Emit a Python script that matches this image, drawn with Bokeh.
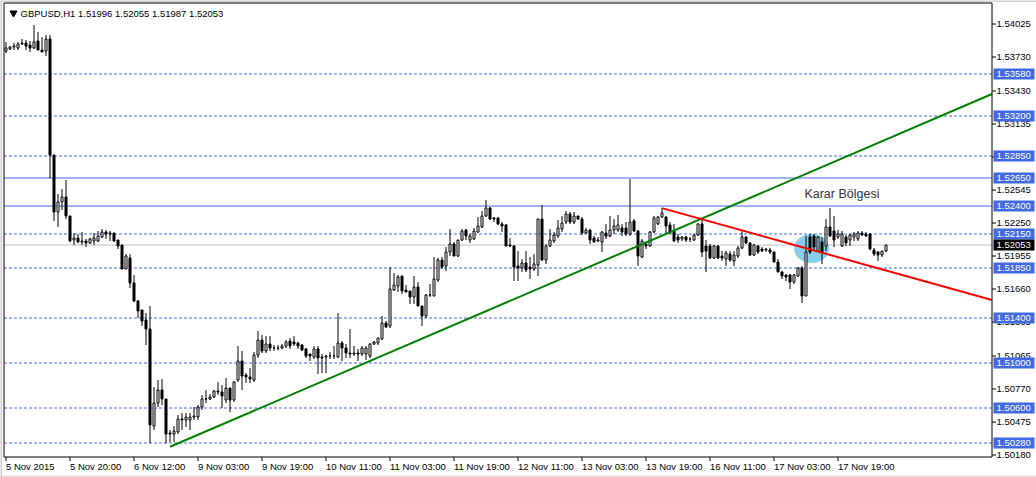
import numpy as np
from bokeh.plotting import figure
from bokeh.models import Range1d, ColumnDataSource
from bokeh.core.properties import value
from bokeh.embed import file_html
from bokeh.resources import INLINE

# ---------------- data (GBPUSD H1) ----------------
opens = [1.53780,1.53801,1.53822,1.53807,1.53852,1.53852,1.53837,1.53813,1.53873,1.53792,
1.53783,1.53891,1.52856,1.52342,1.52437,1.52476,1.52312,1.52097,1.52118,1.52082,
1.52088,1.52067,1.52088,1.52088,1.52127,1.52171,1.52153,1.52156,1.52094,1.52049,
1.51839,1.51938,1.51714,1.51556,1.51469,1.51385,1.51301,1.50434,1.50644,1.50757,
1.50673,1.50375,1.50363,1.50383,1.50494,1.50488,1.50488,1.50518,1.50518,1.50608,
1.50673,1.50673,1.50691,1.50748,1.50742,1.50667,1.50772,1.50667,1.50847,1.51020,
1.50892,1.50877,1.50847,1.51071,1.51200,1.51101,1.51170,1.51131,1.51134,1.51131,
1.51146,1.51194,1.51185,1.51173,1.51155,1.51119,1.51075,1.51054,1.51119,1.51054,
1.51051,1.51057,1.51060,1.51054,1.51179,1.51134,1.51090,1.51081,1.51084,1.51075,
1.51075,1.51060,1.51164,1.51179,1.51209,1.51353,1.51329,1.51652,1.51687,1.51771,
1.51652,1.51643,1.51583,1.51673,1.51508,1.51418,1.51604,1.51598,1.51741,1.51921,
1.51861,1.51987,1.52061,1.51951,1.52097,1.52187,1.52100,1.52106,1.52172,1.52211,
1.52309,1.52381,1.52292,1.52292,1.52241,1.52232,1.52052,1.52046,1.51867,1.51843,
1.51891,1.51852,1.51837,1.51873,1.52280,1.51921,1.52040,1.52091,1.52130,1.52196,
1.52256,1.52330,1.52256,1.52309,1.52286,1.52160,1.52187,1.52112,1.52091,1.52082,
1.52160,1.52136,1.52190,1.52190,1.52202,1.52202,1.52151,1.52262,1.52181,1.51942,
1.52061,1.52040,1.52166,1.52241,1.52300,1.52300,1.52232,1.52181,1.52127,1.52106,
1.52121,1.52103,1.52100,1.52142,1.52241,1.52046,1.52040,1.51933,1.52046,1.51951,
1.51927,1.51972,1.51912,1.51951,1.52022,1.52121,1.52070,1.51963,1.52046,1.52016,
1.52010,1.52010,1.51987,1.51903,1.51813,1.51783,1.51783,1.51723,1.51771,1.51843,
1.51598,1.52121,1.52136,1.52001,1.52076,1.52046,1.52211,1.52181,1.52121,1.52040,
1.52121,1.52100,1.52121,1.52106,1.52160,1.52151,1.52151,1.52010,1.51987,1.51966,
1.51996]
highs = [1.53867,1.53828,1.53852,1.53867,1.53891,1.53882,1.53873,1.54016,1.53956,1.53912,
1.53926,1.53926,1.52856,1.52506,1.52551,1.52629,1.52312,1.52162,1.52147,1.52171,
1.52109,1.52118,1.52162,1.52177,1.52192,1.52186,1.52174,1.52162,1.52100,1.52052,
1.51968,1.51968,1.51780,1.51565,1.51475,1.51445,1.51505,1.50787,1.50847,1.50853,
1.50680,1.50404,1.50434,1.50533,1.50548,1.50554,1.50554,1.50602,1.50623,1.50712,
1.50757,1.50721,1.50757,1.50832,1.50802,1.50862,1.50775,1.50835,1.51146,1.51101,
1.50907,1.50951,1.51092,1.51280,1.51250,1.51235,1.51235,1.51161,1.51155,1.51170,
1.51200,1.51224,1.51239,1.51185,1.51164,1.51134,1.51075,1.51149,1.51149,1.51075,
1.51066,1.51096,1.51149,1.51448,1.51194,1.51164,1.51305,1.51149,1.51119,1.51149,
1.51149,1.51179,1.51194,1.51224,1.51418,1.51374,1.51852,1.51801,1.51783,1.51777,
1.51693,1.51643,1.51771,1.51717,1.51510,1.51613,1.51702,1.51942,1.51933,1.51942,
1.52031,1.52196,1.52076,1.52100,1.52196,1.52196,1.52151,1.52202,1.52300,1.52351,
1.52456,1.52390,1.52300,1.52300,1.52256,1.52241,1.52112,1.52052,1.52001,1.51927,
1.52001,1.51942,1.51972,1.52286,1.52405,1.52061,1.52196,1.52166,1.52271,1.52315,
1.52351,1.52345,1.52345,1.52315,1.52300,1.52202,1.52196,1.52136,1.52121,1.52181,
1.52241,1.52315,1.52286,1.52321,1.52241,1.52256,1.52640,1.52286,1.52187,1.52106,
1.52076,1.52181,1.52315,1.52315,1.52381,1.52315,1.52256,1.52241,1.52151,1.52136,
1.52136,1.52121,1.52151,1.52250,1.52271,1.52100,1.52061,1.52052,1.52052,1.52001,
1.52001,1.52001,1.52001,1.52046,1.52181,1.52136,1.52082,1.52061,1.52052,1.52031,
1.52022,1.52022,1.51990,1.51927,1.51822,1.51792,1.51792,1.51792,1.51852,1.51861,
1.52136,1.52151,1.52151,1.52136,1.52121,1.52286,1.52381,1.52315,1.52190,1.52181,
1.52142,1.52151,1.52166,1.52181,1.52181,1.52166,1.52160,1.52022,1.52001,1.52001,
1.52055]
lows = [1.53762,1.53795,1.53792,1.53795,1.53837,1.53792,1.53777,1.53801,1.53792,1.53777,
1.53741,1.52647,1.52267,1.52216,1.52366,1.52282,1.52079,1.52049,1.52067,1.52055,
1.52034,1.52064,1.52049,1.52079,1.52118,1.52103,1.52088,1.52079,1.52013,1.51833,
1.51833,1.51669,1.51541,1.51400,1.51325,1.51161,1.50285,1.50398,1.50608,1.50623,
1.50285,1.50294,1.50294,1.50368,1.50398,1.50428,1.50398,1.50488,1.50488,1.50578,
1.50637,1.50667,1.50682,1.50712,1.50593,1.50637,1.50563,1.50652,1.50832,1.50757,
1.50817,1.50817,1.50832,1.51041,1.51086,1.51086,1.51101,1.51101,1.51110,1.51122,
1.51131,1.51119,1.51149,1.51119,1.51104,1.51045,1.51015,1.51036,1.50904,1.50910,
1.50910,1.51030,1.51036,1.51045,1.51015,1.51045,1.51045,1.51060,1.51015,1.51060,
1.51024,1.51045,1.51155,1.51155,1.51203,1.51314,1.51314,1.51643,1.51628,1.51613,
1.51628,1.51523,1.51523,1.51508,1.51329,1.51403,1.51583,1.51598,1.51717,1.51837,
1.51822,1.51957,1.51951,1.51942,1.52091,1.52100,1.52070,1.52100,1.52160,1.52202,
1.52300,1.52271,1.52256,1.52226,1.52166,1.52040,1.52031,1.51732,1.51732,1.51807,
1.51813,1.51747,1.51822,1.51777,1.51912,1.51882,1.52031,1.52070,1.52118,1.52166,
1.52241,1.52241,1.52241,1.52271,1.52142,1.52151,1.52061,1.52070,1.52076,1.51987,
1.52106,1.52121,1.52151,1.52166,1.52136,1.52136,1.52136,1.52166,1.51867,1.51933,
1.52016,1.52031,1.52160,1.52226,1.52292,1.52151,1.52151,1.52076,1.52070,1.52091,
1.52082,1.52082,1.52091,1.52136,1.51942,1.51807,1.51927,1.51927,1.51927,1.51912,
1.51867,1.51897,1.51861,1.51933,1.52016,1.52061,1.51957,1.51951,1.51972,1.51987,
1.51987,1.51972,1.51897,1.51807,1.51747,1.51732,1.51658,1.51702,1.51762,1.51538,
1.51592,1.51972,1.52001,1.51987,1.51882,1.52001,1.52121,1.52031,1.52106,1.52031,
1.52040,1.52046,1.52091,1.52091,1.52136,1.52121,1.52010,1.51951,1.51912,1.51942,
1.51987]
closes = [1.53810,1.53822,1.53825,1.53843,1.53843,1.53831,1.53813,1.53861,1.53792,1.53777,
1.53891,1.52856,1.52348,1.52437,1.52476,1.52312,1.52088,1.52118,1.52079,1.52085,
1.52067,1.52109,1.52112,1.52133,1.52171,1.52147,1.52156,1.52088,1.52043,1.51839,
1.51953,1.51714,1.51550,1.51460,1.51370,1.51301,1.50443,1.50644,1.50757,1.50673,
1.50360,1.50360,1.50392,1.50494,1.50485,1.50518,1.50518,1.50527,1.50608,1.50673,
1.50679,1.50697,1.50751,1.50742,1.50703,1.50772,1.50667,1.50832,1.51020,1.50883,
1.50871,1.50853,1.51071,1.51200,1.51101,1.51170,1.51131,1.51134,1.51131,1.51152,
1.51182,1.51149,1.51164,1.51149,1.51113,1.51060,1.51060,1.51119,1.51045,1.51045,
1.51057,1.51060,1.51063,1.51179,1.51134,1.51090,1.51075,1.51084,1.51081,1.51134,
1.51134,1.51164,1.51185,1.51218,1.51353,1.51323,1.51658,1.51693,1.51762,1.51643,
1.51634,1.51583,1.51673,1.51508,1.51418,1.51604,1.51607,1.51747,1.51921,1.51852,
1.51987,1.52061,1.51957,1.52097,1.52181,1.52136,1.52136,1.52181,1.52217,1.52315,
1.52381,1.52286,1.52280,1.52241,1.52220,1.52046,1.52040,1.51852,1.51843,1.51891,
1.51831,1.51837,1.51882,1.52280,1.51921,1.52046,1.52100,1.52142,1.52202,1.52250,
1.52330,1.52256,1.52315,1.52280,1.52160,1.52190,1.52100,1.52082,1.52094,1.52172,
1.52136,1.52190,1.52220,1.52232,1.52166,1.52151,1.52256,1.52181,1.51951,1.52091,
1.52046,1.52166,1.52292,1.52300,1.52339,1.52220,1.52166,1.52091,1.52100,1.52121,
1.52100,1.52106,1.52142,1.52241,1.51987,1.52001,1.51933,1.52046,1.51933,1.51933,
1.51981,1.51921,1.51963,1.52022,1.52121,1.52070,1.51963,1.52052,1.51987,1.52001,
1.52013,1.51987,1.51903,1.51813,1.51771,1.51762,1.51717,1.51783,1.51843,1.51598,
1.51987,1.51987,1.52031,1.52121,1.51987,1.52211,1.52136,1.52100,1.52151,1.52151,
1.52070,1.52142,1.52151,1.52160,1.52142,1.52136,1.52016,1.51972,1.51963,1.51996,
1.52053]

time_labels = ["5 Nov 2015", "5 Nov 20:00", "6 Nov 12:00", "9 Nov 03:00", "9 Nov 19:00",
               "10 Nov 11:00", "11 Nov 03:00", "11 Nov 19:00", "12 Nov 11:00", "13 Nov 03:00",
               "13 Nov 19:00", "16 Nov 11:00", "17 Nov 03:00", "17 Nov 19:00"]
bars_per_label = 16
price_ticks = [1.54025, 1.53730, 1.53430, 1.53135, 1.52840, 1.52545, 1.52250, 1.51955,
               1.51660, 1.51365, 1.51065, 1.50770, 1.50475, 1.50180]
dashed_levels = [1.53580, 1.53200, 1.52850, 1.52150, 1.51850, 1.51400, 1.51000, 1.50600, 1.50280]
solid_levels = [1.52650, 1.52400]
bid_price = 1.52053
title_text = "GBPUSD,H1  1.51996 1.52055 1.51987 1.52053"

green_anchor_x = [41, 200]
green_anchor_y = [1.50250, 1.52687]
red_anchor_x = [164, 200]
red_anchor_y = [1.52381, 1.52023]
zone_x, zone_y, zone_w, zone_h = 201.4, 1.52020, 8.75, 0.0026
zone_text = "Karar Bölgesi"
zone_text_x, zone_text_y = 199.6, 1.52505

# ---------------- layout: the whole terminal window is drawn in one frame ----------------
FONT = value("Liberation Sans")
BLUE = "#4169E1"
W, H = 1036, 477
x_min = -1.375                       # bar i sits on canvas x = 5.5 + 4 i
x_max = x_min + W / 4.0
y_max = 1.542349                     # ~0.0000893 per px
y_min = y_max - H * 0.00008929
sx = W / (x_max - x_min)             # px per bar
py = (y_max - y_min) / H             # price per px

def cx(px_):            # canvas x (px) -> data x
    return x_min + px_ / sx

def cy(px_):            # canvas y (px from top) -> data y
    return y_max - px_ * py

def snap(v):            # put a price on the centre of its pixel row (crisp 1px lines)
    r = (y_max - np.asarray(v, dtype=float)) / py
    return y_max - (np.floor(r) + 0.5) * py

fx0, fx1 = cx(3.5), cx(991.5)        # price-area frame
fy0, fy1 = cy(2.5), cy(456.5)

p = figure(width=W, height=H, output_backend="svg", toolbar_location=None,
           x_range=Range1d(x_min, x_max), y_range=Range1d(y_min, y_max),
           x_axis_location=None, y_axis_location=None,
           min_border_left=0, min_border_right=0, min_border_top=0, min_border_bottom=0)
p.xgrid.visible = False
p.ygrid.visible = False
p.outline_line_color = None
p.background_fill_color = "white"
p.border_fill_color = "white"

# horizontal levels
d_y = snap(dashed_levels)
s_y = snap(solid_levels)
b_y = float(snap(bid_price))
p.multi_line(xs=[[fx0, fx1] for _ in d_y], ys=[[v, v] for v in d_y],
             line_color=BLUE, line_width=1, line_dash="3 2")
p.multi_line(xs=[[fx0, fx1] for _ in s_y], ys=[[v, v] for v in s_y],
             line_color=BLUE, line_width=1)
p.line([fx0, fx1], [b_y, b_y], line_color="#C0C0C0", line_width=1)

# decision zone ellipse
p.ellipse(x=[zone_x], y=[zone_y], width=[zone_w], height=[zone_h],
          fill_color="#87CEEB", line_color=None)

# candles
o = np.array(opens); c = np.array(closes)
src = ColumnDataSource(dict(
    x=np.arange(len(opens)),
    top=snap(np.maximum(o, c)), bottom=snap(np.minimum(o, c)),
    high=snap(highs), low=snap(lows),
    fill=["white" if cc >= oo else "black" for oo, cc in zip(opens, closes)]))
p.segment(x0="x", y0="low", x1="x", y1="high", source=src, line_color="black", line_width=1)
p.vbar(x="x", top="top", bottom="bottom", width=0.5, fill_color="fill",
       line_color="black", line_width=1, source=src)

# trend lines (rays to the right edge of the price area)
def ray(xs, ys, x_end=fx1):
    slope = (ys[1] - ys[0]) / (xs[1] - xs[0])
    return [xs[0], x_end], [ys[0], ys[0] + slope * (x_end - xs[0])]

gx, gy = ray(green_anchor_x, green_anchor_y)
p.line(gx, gy, line_color="#008000", line_width=2)
rx, ry = ray(red_anchor_x, red_anchor_y)
p.line(rx, ry, line_color="#FF0000", line_width=2)

p.text(x=[zone_text_x], y=[zone_text_y], text=[zone_text], text_font=FONT,
       text_font_size="12.5px", text_color="#3b3030", text_baseline="middle", text_align="left")

# title with its small drop-down triangle
p.scatter(x=[cx(13)], y=[cy(12.5)], marker="inverted_triangle", size=7,
          fill_color="black", line_color="black")
p.text(x=[cx(20)], y=[cy(13)], text=[title_text], text_font=FONT,
       text_font_size="9.5px", text_color="black", text_baseline="middle", text_align="left")

# window border and price-area frame
p.line([cx(0.5), cx(0.5)], [y_min, y_max], line_color="#A0A0A0", line_width=1)
p.line([x_min, x_max], [cy(0.5), cy(0.5)], line_color="#A0A0A0", line_width=1)
p.line([x_min, x_max], [cy(475.5), cy(475.5)], line_color="#D0D0D0", line_width=1)
p.line([fx0, fx0], [fy1, fy0], line_color="black", line_width=1)
p.line([fx0, fx1], [fy0, fy0], line_color="black", line_width=1)
p.line([fx1, fx1], [fy1, fy0], line_color="black", line_width=1)
p.line([fx0, fx1], [fy1, fy1], line_color="black", line_width=1)

# price scale (right)
t_y = snap(price_ticks)
n_t = len(price_ticks)
p.segment(x0=[fx1] * n_t, x1=[cx(995.5)] * n_t, y0=t_y, y1=t_y,
          line_color="black", line_width=1)
p.text(x=[cx(996)] * n_t, y=t_y, text=["%.5f" % t for t in price_ticks],
       text_font=FONT, text_font_size="9.5px", text_color="black",
       text_baseline="middle", text_align="left")

# highlighted price labels of the horizontal lines and of the bid
lab_levels = list(dashed_levels) + list(solid_levels)
lab_y = list(d_y) + list(s_y)
box_half = 5.5 * py
p.quad(left=[cx(993)] * len(lab_y), right=[cx(1034)] * len(lab_y),
       bottom=[v - box_half for v in lab_y], top=[v + box_half for v in lab_y],
       fill_color=BLUE, line_color=None)
p.text(x=[cx(996)] * len(lab_y), y=lab_y, text=["%.5f" % lv for lv in lab_levels],
       text_font=FONT, text_font_size="9.5px", text_color="white",
       text_baseline="middle", text_align="left")
p.quad(left=[cx(993)], right=[cx(1034)], bottom=[b_y - box_half],
       top=[b_y + box_half], fill_color="black", line_color=None)
p.text(x=[cx(996)], y=[b_y], text=["%.5f" % bid_price],
       text_font=FONT, text_font_size="9.5px", text_color="white",
       text_baseline="middle", text_align="left")

# time scale (bottom)
tick_x = [bars_per_label * k for k in range(len(time_labels))]
n_x = len(tick_x)
p.segment(x0=tick_x, x1=tick_x, y0=[fy1] * n_x, y1=[cy(460.5)] * n_x,
          line_color="black", line_width=1)
p.text(x=tick_x, y=[cy(460)] * n_x, text=time_labels, text_font=FONT,
       text_font_size="9.5px", text_color="black", text_baseline="top", text_align="left")

open("out.html", "w").write(file_html(p, INLINE))
